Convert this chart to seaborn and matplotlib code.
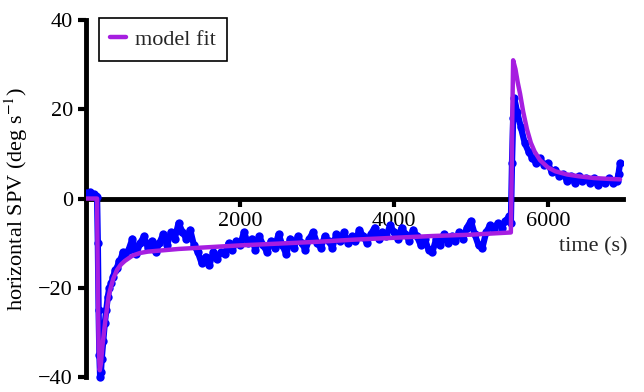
import pandas as pd
import seaborn as sns
import matplotlib.pyplot as plt

time_s = [0, 25, 50, 75, 100, 125, 140, 150, 160, 170, 180, 190, 200, 220, 240, 260, 280, 300,
          325, 350, 375, 400, 425, 450, 475, 500, 550, 600, 650, 700, 750, 800, 850, 900, 950,
          1000, 1050, 1100, 1150, 1200, 1250, 1300, 1350, 1400, 1450, 1500, 1550, 1600, 1650,
          1700, 1750, 1800, 1850, 1900, 1950, 2000, 2050, 2100, 2150, 2200, 2250, 2300, 2350,
          2400, 2450, 2500, 2550, 2600, 2650, 2700, 2750, 2800, 2850, 2900, 2950, 3000, 3050,
          3100, 3150, 3200, 3250, 3300, 3350, 3400, 3450, 3500, 3550, 3600, 3650, 3700, 3750,
          3800, 3850, 3900, 3950, 4000, 4050, 4100, 4150, 4200, 4250, 4300, 4350, 4400, 4450,
          4500, 4550, 4600, 4650, 4700, 4750, 4800, 4850, 4900, 4950, 5000, 5050, 5100, 5150,
          5200, 5250, 5300, 5350, 5400, 5450, 5500, 5520, 5535, 5550, 5565, 5600, 5650, 5700,
          5750, 5800, 5850, 5900, 5950, 6000, 6050, 6100, 6150, 6200, 6250, 6300, 6350, 6400,
          6450, 6500, 6550, 6600, 6650, 6700, 6750, 6800, 6850, 6900, 6920, 6940]
spv = [1.2, 0.8, 1.4, 0.6, 1.0, 0.5, 0.3, -10, -25, -35, -40, -39, -36, -32, -28, -25, -22, -20,
       -19, -17.5, -16, -15.5, -14, -13.5, -12, -12.5, -11.5, -9.0, -12.5, -10.0, -8.5, -11.0,
       -9.5, -12.0, -10.0, -8.0, -10.5, -7.5, -9.0, -5.5, -7.5, -9.0, -7.0, -10.5, -12.0, -14.5,
       -13.0, -15.0, -12.0, -13.5, -12.0, -12.5, -10.0, -11.5, -9.5, -10.5, -7.5, -10.0, -9.0,
       -11.5, -8.5, -10.5, -12.0, -9.5, -11.0, -8.0, -10.5, -12.5, -9.0, -11.0, -8.5, -10.0,
       -11.5, -9.0, -7.5, -10.0, -11.0, -8.5, -9.5, -11.0, -8.0, -9.5, -7.5, -10.0, -8.5, -9.5,
       -7.0, -8.5, -10.0, -8.0, -6.5, -9.0, -7.5, -8.5, -6.0, -7.5, -9.0, -6.5, -8.0, -9.5,
       -7.0, -8.5, -10.5, -9.0, -11.5, -12.0, -9.0, -10.5, -8.0, -10.0, -8.5, -9.5, -7.5, -9.0,
       -6.5, -5.0, -8.0, -10.5, -11.0, -7.5, -6.0, -7.0, -5.5, -6.5, -5.0, -4.0, -5.5, 8.0,
       18.0, 22.5, 19.5, 16.0, 12.5, 10.5, 9.0, 8.0, 9.0, 7.5, 8.0, 6.0, 6.5, 5.0, 5.5, 4.0,
       5.0, 3.5, 5.0, 4.0, 4.5, 3.5, 4.5, 3.0, 4.0, 3.5, 4.5, 3.5, 4.0, 5.5, 8.0]

# model fit (purple line)
fit_time = [0, 140, 150, 160, 175, 190, 210, 230, 250, 270, 290, 310, 350, 400, 450, 500, 600,
            700, 800, 1000, 1200, 1500, 2000, 2500, 3000, 3500, 4000, 4500, 5000, 5520, 5530,
            5540, 5550, 5580, 5610, 5640, 5680, 5730, 5780, 5830, 5900, 6000, 6100, 6250, 6400,
            6600, 6800, 6940]
fit_spv = [0, 0, -20, -33, -38.5, -37, -33, -30, -27, -24.5, -22, -20.5, -18, -16, -14.8, -14,
           -12.8, -12.2, -11.9, -11.6, -11.3, -11.0, -10.5, -10.1, -9.7, -9.2, -8.8, -8.4, -8.1,
           -7.6, 5, 20, 31, 29, 26, 23.5, 19.5, 15.5, 12.5, 10.5, 8.6, 7.0, 6.1, 5.4, 5.0, 4.6,
           4.4, 4.3]

sns.set_theme(style="ticks")
plt.rcParams['font.family'] = ['Liberation Serif', 'DejaVu Serif']
plt.rcParams['mathtext.fontset'] = 'stix'

fig = plt.figure(figsize=(6.44, 3.92), dpi=100)
ax = fig.add_axes([0.134, 0.027, 0.833, 0.933])

data = pd.DataFrame({"time": time_s, "spv": spv})
fit = pd.DataFrame({"time": fit_time, "spv": fit_spv})

sns.lineplot(data=data, x="time", y="spv", color="#0000ff", lw=4.5, marker="o",
             markersize=6, markeredgewidth=0, ax=ax, zorder=3)
sns.lineplot(data=fit, x="time", y="spv", color="#a61ee0", lw=3.2, ax=ax,
             label="model fit", zorder=4)

ax.set_xlim(0, 6975)
ax.set_ylim(-41, 41)
ax.set_xticks([2000, 4000, 6000])
ax.set_yticks([-40, -20, 0, 20, 40])

for side in ["top", "right"]:
    ax.spines[side].set_visible(False)
ax.spines["left"].set_bounds(-40, 40)
ax.spines["bottom"].set_position(("data", 0))
ax.spines["bottom"].set_bounds(0, 6975)
for side in ["left", "bottom"]:
    ax.spines[side].set_linewidth(3.5)
    ax.spines[side].set_color("black")

ax.tick_params(width=3, length=6, labelsize=16, color="black", labelcolor="black")
ax.set_xlabel("")
ax.set_ylabel("horizontal SPV (deg s$^{-1}$)", fontsize=16, color="black", labelpad=6)
ax.text(7040, -11.8, "time (s)", ha="right", va="baseline", fontsize=16)

leg = ax.legend(loc="upper left", bbox_to_anchor=(0.024, 0.993), borderaxespad=0,
                frameon=True, fancybox=False, edgecolor="black", framealpha=1,
                fontsize=16, handlelength=0.7, handletextpad=0.4, borderpad=0.5)
leg.get_frame().set_linewidth(1.2)

fig.savefig("out.png", dpi=100)
